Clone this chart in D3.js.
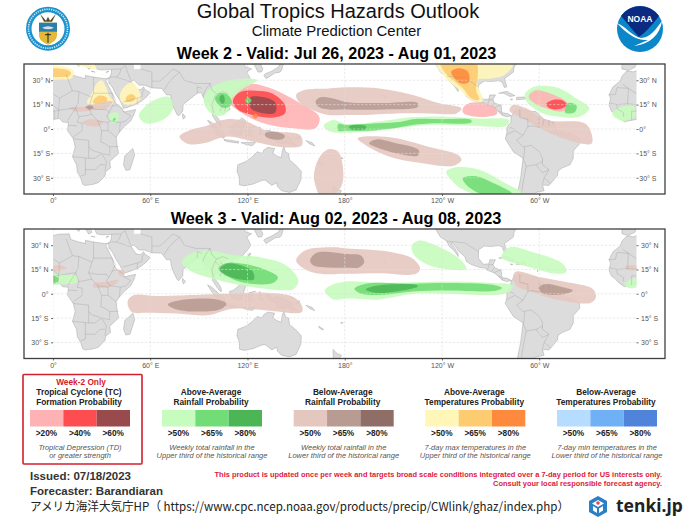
<!DOCTYPE html>
<html>
<head>
<meta charset="utf-8">
<script src="https://cdn.jsdelivr.net/npm/d3@7"></script>
<style>
html, body { margin: 0; padding: 0; background: #fff; }
svg { display: block; font-family: "Liberation Sans", Arial, sans-serif; }
</style>
</head>
<body>
<div id="wrapper"></div>
<script>
// lat / lon ticks
const lonTicks = [0, 60, 120, 180, 240, 300];
const lonTickLabels = ["0°", "60° E", "120° E", "180°", "120° W", "60° W"];
const latTicks = [30, 15, 0, -15, -30];
const latTickLabels = ["30° N", "15° N", "0°", "15° S", "30° S"];

// land, [lon, lat]
const africa = [[10,37],[11,33.5],[15,32.3],[20,31],[20,33],[25,32],[32,31],[34.3,31.3],[32.5,30],[34,27],[35.5,24],[37,21],[37.3,18.5],[39,15.5],[43,12],[44,10.5],[51,12],[50,9],[48,5],[44,1.5],[41,-2],[39,-5],[39.5,-10],[40.5,-15],[35,-20],[35.5,-24],[32.7,-26],[32,-29],[28,-33],[25,-34],[20,-34.8],[18.3,-34],[17,-30],[15,-26.5],[14.5,-22],[12,-17],[13.7,-11],[12.5,-6],[9,-1],[9.5,4],[6,4.3],[4,6.4],[1,6],[-4,5.2],[-7.5,4.4],[-11,6.8],[-13.5,9.5],[-15.5,11],[-17,14.7],[-16,19],[-17,21],[-14.5,26],[-10,29.5],[-9,32.5],[-6,35.7],[-2,35.2],[3,36.8]];
const eurasia = [[-9,37],[-5,36],[-1,38],[0,40],[3,42],[8,44],[12,42],[16,38.5],[17,40.5],[14,44],[19.5,41],[22,36.8],[24,38],[23,40.5],[26.5,40.5],[26,39],[27,37],[30,36.3],[36,36.7],[36,34],[35,32],[34.3,31.3],[34.5,28],[35,28],[37,25],[39,21],[41,18],[43,14],[43.5,12.7],[45,13],[52,15.5],[55,17.5],[58,20],[59.8,22.5],[56.5,24.5],[56,26],[54,24.2],[51.5,24.5],[50,26.5],[48,29.5],[50,30],[53,27],[56.5,27],[61,25.3],[67,25],[68.5,23],[70,21],[72.5,21],[73,17],[74.5,13],[76.5,9],[77.5,8],[80,11],[80.3,15],[82,16.5],[86.5,20],[89,22],[91.5,22.5],[92.5,20],[94.5,16],[97,16.5],[98,12],[98.5,8],[100.5,5],[103,1.5],[104,1.5],[103.5,4],[102,6.5],[100,9],[100,13],[101,12.7],[103,11],[105,8.7],[107,10.5],[109.2,12],[108.8,15.5],[106,18.5],[106,20],[108,21.5],[110,20.5],[113,22],[117,23.5],[120,27],[122,30],[121,32.5],[119.5,35],[122.5,37],[118.5,38.5],[118,40],[122,40],[124,39.8],[125,38],[126.5,35],[128.8,35.2],[129.5,37],[128,40],[132,43],[140,50],[180,60],[-10,60],[-9,43]];
const northAmerica = [[-124,42],[-124,40],[-121,35],[-117,32.5],[-115.7,29.5],[-112.5,26.5],[-110,23],[-110,24.5],[-112,28],[-114.5,31.5],[-113,31],[-109.5,26],[-106,23],[-105,20],[-102,18],[-96,16],[-94,16],[-92,14.5],[-88,13],[-85.5,11],[-83,8.5],[-80,7.5],[-78,8],[-77,8],[-79.5,9.5],[-83,10],[-83.5,14.5],[-87.5,16],[-88.5,18],[-87,21],[-90.5,21],[-91,18.5],[-94.5,18.2],[-97.5,22],[-97.5,27],[-94,29.5],[-90,29.2],[-85,29.7],[-83,29],[-81.5,25.5],[-80,26],[-81.5,31],[-76,35],[-75.5,38],[-74,40.5],[-70,42],[-60,50],[-130,50]];
const southAmerica = [[-77,8],[-75.5,10.8],[-72,12],[-68,11],[-62,10.7],[-57,6],[-52,4.5],[-50,1],[-48,-1],[-44,-2.5],[-40,-3],[-35.2,-5.5],[-35,-9],[-39,-13.5],[-39,-18],[-41,-22],[-46,-24],[-48.5,-26],[-48.7,-28.5],[-52,-32.5],[-54,-34.7],[-58,-34.5],[-57,-38],[-62,-39],[-65,-42],[-72,-45],[-73.5,-40],[-71.5,-30],[-70,-18],[-76,-14],[-81,-6],[-80,-2.5],[-80,1],[-77.5,4],[-77.5,7]];
const australia = [[114,-22],[113.5,-26],[115,-30],[115,-34.3],[118,-35],[123.5,-33.9],[129,-31.6],[131,-31.5],[135,-34.7],[138,-33],[138.5,-35.5],[141,-38],[146,-39],[150,-37.5],[153,-31],[153.2,-26],[149.5,-22],[146,-19],[145.3,-15],[143.5,-14.3],[142.5,-10.8],[141.5,-13],[140.8,-17.5],[139,-17],[135.5,-15],[136.8,-12],[132.5,-11.3],[130,-13],[129,-15],[126,-14],[122.5,-17.5],[119,-20]];
const islands = [
  [[49.3,-12],[50.4,-16],[47.5,-25],[45,-25.5],[43.5,-22],[44.3,-16.5]],
  [[80,9.5],[81.8,7.5],[80.5,6],[79.8,8]],
  [[95.3,5.5],[98,4],[103.5,-1],[106,-3],[105.5,-5.8],[102,-4],[98.5,0.5]],
  [[105.5,-6.5],[108.5,-6.8],[114.5,-7.7],[114.5,-8.7],[108,-7.9],[105.5,-7]],
  [[109,1.5],[111,2],[113,3.5],[116.5,7],[119,5],[117.7,1],[116.3,-3.5],[114.5,-4],[110.5,-3],[109,0]],
  [[119.5,0],[125,1.5],[121,0.5],[122,-1],[123.3,-1],[122,-2],[123,-5],[121.5,-4],[120.5,-3],[120.4,-5.5],[119.5,-5.5],[119,-3]],
  [[131,-1],[134,-0.8],[135,-3.3],[138,-1.7],[141,-2.6],[145,-4.5],[147.8,-6.5],[147,-7],[150.5,-10.5],[147,-9.8],[143.5,-8.3],[142.5,-9.2],[138,-8.3],[138.5,-6.5],[135,-4.5],[132.5,-3.5],[133,-2.5]],
  [[120.5,18.5],[122.3,18.4],[121.7,16],[124,13],[121,13.8],[120,15.5]],
  [[122,7],[125.5,9.7],[126.5,7.5],[125.5,5.8],[124,6.5]],
  [[122,11.5],[125,12.5],[125,10],[123,9.5]],
  [[121,25],[122,25],[120.8,22],[120.2,23]],
  [[109,20],[111,20],[110,18.3],[108.7,18.8]],
  [[130,33],[131,34],[135,35.6],[137,37],[139,38],[140,40],[141.5,41],[142,39.5],[141,36],[140,35],[137,34.5],[135.5,33.5],[131.5,31]],
  [[172.7,-34.4],[175.5,-37],[178,-38],[176,-41],[173,-41]],
  [[116,-8.4],[119,-8.3],[125,-8.3],[123,-10.3],[119,-9.6]],
  [[127.5,1.5],[128.5,-1],[128,-3],[130.5,-3.5],[127.5,-3.5]],
  [[150,-5.5],[152,-4.2],[152,-6],[149.5,-6.5]],
  [[156,-7],[160,-8.5],[161.5,-10.5],[158,-9]],
  [[164,-20],[167,-22],[166,-22.3],[164,-20.8]],
  [[-85,22],[-80,23.2],[-75,20.5],[-78,20],[-82,22]],
  [[-74,19.5],[-69,19.7],[-68.5,18.5],[-74,18]],
  [[-78,18.4],[-76.3,18.2],[-77,17.8]],
  [[-67,18.5],[-65.7,18.4],[-66,18]],
  [[-156,20.8],[-155,19.8],[-155.7,19]],
  [[-61,14.5],[-60.8,13.8],[-61.4,13.9]],
  [[178,-17.5],[179,-18],[177.5,-18.3]],
  [[25,35.3],[23.5,35.5],[26,35]],
  [[33,35.3],[34.5,35.6],[33,34.6]]
];
const lakes = [[[50,37],[54,37],[54,40],[50,40]]];

// borders, [lon, lat]
const borders = [
  [[25,32],[25,22],[36.5,22]],[[25,22],[24,19.5],[16,23],[12,23.5],[9.5,30],[8,34]],[[12,23.5],[4,19],[1,21],[-5,25],[-8.5,27.5]],
  [[-5,25],[-12,25.5],[-13,21.3],[-17,21]],[[-5,25],[-5.5,15.5],[-12,15],[-16.5,16]],[[-12,15],[-12,12.5],[-8,10],[-8,7.5]],
  [[4,19],[3.5,11.5],[1,11],[1,6]],[[-5.5,15.5],[0,15],[3.5,11.5]],[[-3,5.2],[-3,11],[1,11]],[[3.5,11.5],[3,6.5]],
  [[3.5,11.5],[14,13],[15.5,16],[16,23]],[[14,13],[9,5]],[[24,19.5],[22,13],[24,9],[27.5,5],[34,4]],[[14,13],[15,10],[16,7.5],[24,9]],
  [[36.5,22],[38.5,18],[36.5,14],[34.5,10],[33,8],[35,5],[34,4]],[[36.5,14],[40,15],[43,12.5]],[[22,13],[27,12],[33,12],[34.5,10]],
  [[43,11],[48,8],[45,5],[41.5,4],[41,-2]],[[35,5],[41.5,4]],[[34,4],[34,-1],[39,-5]],[[30,-1],[34,-1]],[[30,-1],[29.5,-8],[31,-8.5],[35,-11],[40.5,-10.7]],
  [[27.5,5],[30,-1]],[[16,7.5],[15,4],[18,3.5],[18,-1],[12.5,-5]],[[9.5,2.3],[15,2]],[[12.5,-6],[22,-7],[22,-11],[24,-13],[30,-15],[33,-20],[32,-26]],
  [[35,-11],[35,-16],[30,-15]],[[22,-11],[22,-18],[12,-17]],[[20,-18],[20,-28],[17,-29]],[[20,-25],[26,-25],[29,-22],[32,-22]],[[22,-18],[26,-18],[30,-15]],
  [[34.3,31.3],[36,32],[39,32],[48,29]],[[36,36.7],[42,37],[44.5,39]],[[42,37],[41,34],[39,32]],[[48,30],[46,35],[44.5,39]],[[43,16.5],[52,19],[55,20],[55,22.5],[56,24.5]],[[52,15.5],[52,19]],
  [[61,25.3],[61,29.5],[61,35],[54,37]],[[61,29.5],[66,29.5],[70,33],[74,37]],[[68.5,24],[71,28],[74.5,32],[78,35]],[[78,35],[81,30],[88,28],[97,28],[98,24],[101,21.5],[105,23],[108,21.5]],
  [[92.5,20],[94,24],[97,28]],[[89,22],[89,26],[92,25]],[[101,21.5],[100,20],[98,15],[99,10]],[[100,20],[105,15],[103,11]],[[103,20],[107,15],[106,11]],[[74,37],[78,35]],[[124,39.8],[128,42]],
  [[-72,12],[-72,7],[-67,6],[-67,1.5],[-70,-4]],[[-80,-3.5],[-75,-1],[-70,-4]],[[-78,1],[-75,0]],[[-60,8],[-60,5],[-60,1],[-64,2],[-67,1.5]],[[-57,6],[-58,2]],[[-54,5.5],[-54,2]],[[-52,4.5],[-51,3]],[[-70,-4],[-74,-7],[-70,-11],[-65,-10],[-60,-14],[-58,-18],[-58,-22],[-54,-25],[-57,-30],[-53,-33.5]],
  [[-69,-11],[-69.5,-17.5],[-70,-18],[-68,-23],[-70,-33],[-71,-40]],[[-58,-20],[-62,-22],[-68,-23]],[[-58,-27],[-62,-22]],[[-58,-27],[-54,-25]],[[-58,-34],[-57,-30]],
  [[-117,32.5],[-106,31.5],[-97.5,26]],[[-92,14.5],[-91,18],[-88.5,18]],[[-89,14],[-88,16]],[[-85,11],[-83,10]],[[-83,8.5],[-82.5,9.5]],[[-88,13],[-83.5,15]]
];

// hazard areas, [kind, [lon, lat]...]
const week2Hazards = [
  ["warm1", [[236.5,41],[284,41],[278.6,33.3],[269.3,31],[262,30],[265,17],[258,18],[251,24],[242.6,31]]],
  ["warm2", [[239,41],[260.8,41],[262,32],[261,24],[263,18],[258,19],[253,25],[246.8,30],[241.5,35.3]]],
  ["warm3", [[245.7,35.3],[250.8,37.4],[256,35.3],[256.6,29],[252,28],[248,31]]],
  ["warm1", [[14,40],[20,38],[27,37],[24,41]]],
  ["warm1", [[-1,38],[6,38.5],[13,35.5],[11,31],[5,30.5],[-1,31]]],
  ["warm2", [[-1,36.8],[6,37],[11,35],[10,32.5],[5,32],[-1,32.5]]],
  ["warm1", [[21,16],[24,22],[27,28],[30,30],[33,25],[35,20],[38,16],[30,15]]],
  ["warm2", [[24.5,16.5],[28,20.5],[33,19.5],[33,16],[28,15]]],
  ["warm1", [[42,17],[41.5,22],[45,27],[49,28.5],[53,24],[54,19],[50,15.5],[45,15]]],
  ["warm2", [[45,17],[45.5,20],[48.5,21.5],[51,19.5],[49,17]]],
  ["dry1", [[10,13],[20,13.8],[28,16],[37,17],[33,13],[25,11.5],[15,10.7]]],
  ["dry2", [[20,13.5],[24,14.5],[25,13],[22,12]]],
  ["wet1", [[35,9],[40,10],[40,5],[36,4]]],
  ["wet2", [[37,6],[38.5,7],[38.5,5.5],[37,5]]],
  ["dry1", [[18,4],[24,6],[31,4],[29,2],[22,2]]],
  ["wet1", [[53,8],[57,14],[64,18.5],[72,19.5],[74,13],[71,8],[65,4.5],[57,3.5]]],
  ["dry1", [[78,-4.7],[83.5,-1],[95,2],[107,6],[119.5,4.5],[132,-1],[152.5,-3.7],[153.5,-10],[142,-11.3],[123.7,-7.8],[107,-4.7],[92.8,-8.8],[83.5,-9.2]]],
  ["dry2", [[131,-2.5],[136,-1.5],[143,-4],[142,-6],[136,-6.5],[131,-4.5]]],
  ["dry1", [[161,-28],[164,-18],[170,-12.5],[176,-14],[179,-25],[178,-35],[172,-41],[165,-41],[162,-35]]],
  ["dry1", [[150,21],[155,24],[170,25],[181,25.7],[201.5,25],[222,21],[238.4,15.8],[252,12.7],[249,9.6],[232.3,9.6],[211.7,9.6],[191,8.6],[181,8.6],[168,9],[152.5,16]]],
  ["dry2", [[162,17],[165,19.5],[172,19],[182,16.5],[205,16],[225,16],[225,13.5],[205,12],[190,11.8],[180,12],[170,12],[164,13.5]]],
  ["tc1", [[108,17.9],[115,25.7],[121.6,28],[136,24.4],[152.5,15.8],[164.4,7.2],[161.7,0.4],[148.4,0.4],[132,3],[118.5,8.6]]],
  ["tc1", [[253,13],[257,16],[265,16],[273,13],[274,9.5],[268,7.5],[258,8],[253,10]]],
  ["wet1", [[93,17],[96,24],[105,29],[118,31],[126,30],[116,24],[110,18],[108,11],[103,8],[97,10]]],
  ["wet2", [[100,19],[103,22],[107,21.5],[110,18],[110,15],[106,13],[102,15]]],
  ["wet3", [[103,20],[105,21],[106,18],[105,15.5],[103,17]]],
  ["tc2", [[111,17],[115,22.5],[125,23.6],[135,22],[143,15],[143,9.5],[135,7],[122,9],[114,12]]],
  ["tc3", [[121,19],[127,20],[137,16.5],[137,10],[128,10],[122,13]]],
  ["wet2", [[118.5,17.5],[120.5,19.5],[122.5,17.5],[120.5,15.5]]],
  ["warm3", [[123,8],[125,9.5],[126.5,8],[125,6.5]]],
  ["wet1", [[167,2],[173,5.5],[181,3],[207.5,5.5],[218,7],[242.5,7.6],[263,6.5],[281.5,5.5],[280,2],[259,2],[232,2.5],[216,1],[195,-1.6],[181,-2.3],[171,-1.6]]],
  ["wet2", [[176,3],[181,2.5],[200,3.5],[215,4.5],[222,6],[240,6],[258,5.5],[258,4],[235,3.5],[222,2.5],[213,1],[195,-1],[181,-1],[176,-1]]],
  ["wet3", [[183,1.8],[193,1.8],[193,0],[183,0]]],
  ["dry1", [[188,-5.7],[207.7,-5],[232.3,-11],[250,-16],[252,-19],[247,-22.6],[228,-21],[207.7,-17],[193,-10]]],
  ["dry2", [[195,-8.8],[199.4,-6.4],[211.7,-8.8],[225.7,-13],[225,-16.4],[213.8,-15.4],[201.5,-12]]],
  ["wet1", [[242.6,-26.3],[248.8,-23.6],[263,-25],[279.5,-33.5],[290,-39.6],[263.8,-41],[251.5,-36.5],[245.7,-31.4]]],
  ["wet2", [[252.8,-30.4],[261,-29],[270,-32.4],[283.5,-40],[268,-41],[257.5,-36.5]]],
  ["wet1", [[291,21],[296,25.7],[310.5,25.7],[322.7,19],[331,12.7],[325,7.6],[312.5,7.6],[302.3,9.6],[293,15.8]]],
  ["tc1", [[293.5,20],[297,23.6],[306.4,22],[316.7,16.8],[319,12.7],[313.5,10.7],[304.3,12.7],[297,15.8]]],
  ["wet2", [[318,16],[323,14.5],[322,10.5],[316,10]]],
  ["tc2", [[304.3,15.4],[308.4,17.9],[314.6,17.5],[317,14.8],[312.5,12.3],[306.4,12.7]]],
  ["dry1", [[281.7,11.3],[283.7,14.8],[292,12.7],[304.3,5.5],[329,3],[332.5,-8.8],[325,-8.8],[304.3,-1.6],[290,6.6]]],
  ["wet1", [[345,9],[349,13],[358,14],[359,8],[352,5]]]
];
const week3Hazards = [
  ["dry1", [[-1,16.5],[5,17.5],[8.5,16],[4,14],[-1,14.5]]],
  ["wet1", [[-1,11.5],[8,11.7],[15,11],[14.5,7],[6,6],[-1,6]]],
  ["wet2", [[-1,10.5],[3,10],[3,7.5],[-1,7]]],
  ["dry1", [[25,6],[33,7.5],[40.5,8.5],[38,5.5],[30,3.7],[25,4]]],
  ["dry1", [[40,14],[44,14.5],[44,11.5],[41,11.5]]],
  ["wet1", [[79.4,19.5],[84.5,24.6],[95,26.7],[111,24],[127.8,22.6],[144,17.5],[151.4,8.2],[148.4,3],[131.9,3],[111.3,6.2],[94.9,10.3],[84.5,14.4]]],
  ["wet2", [[102,15.4],[107,19],[117.5,18.5],[132,14.4],[138.7,10.3],[136,6.8],[123.7,6],[111.3,8.8]]],
  ["wet3", [[103,15],[107,18.5],[112,18.5],[123,14],[124,9],[118,8.5],[108,11]]],
  ["dry1", [[46,-5],[49.6,-1],[64,-1.4],[107,0],[132,0.6],[148.4,-2],[153.5,-7.2],[153.5,-11.3],[132,-10.3],[111.3,-9.2],[94.9,-13.3],[78.4,-12.3],[57.8,-11.7],[48.6,-11.3]]],
  ["dry2", [[70.8,-6.6],[78.4,-4],[101,-3.5],[107,-6],[104,-9.2],[90.7,-11],[76.3,-9.7]]],
  ["dry1", [[150,20.5],[155.5,26.7],[173,28.7],[181,28],[207.7,26],[222,21.6],[226.5,15.4],[224,12.3],[201.5,12.7],[181,12.3],[165,12.3],[155.5,15]]],
  ["dry2", [[158.6,20.5],[162.7,25.3],[181,24.6],[190,23.6],[192,19.5],[189,16.4],[181,16],[167,16.4],[160.7,17.5]]],
  ["wet1", [[221.4,29.8],[226,32.9],[236.4,29.8],[250.8,21.6],[255,15.4],[245,15],[232.3,17.5],[223,23.6]]],
  ["wet1", [[276.5,22.6],[281.7,28.7],[296,25.7],[314.6,18.5],[316.6,13.3],[310.5,12.3],[294,16.4],[279.6,20.5]]],
  ["wet1", [[167.5,2],[171,5],[180.9,7.6],[201.5,6.8],[242.5,7.6],[269,6.8],[283.7,5],[280.6,0.6],[242.5,0],[221.9,0],[201.5,-3.5],[181,-3],[173,-3.5]]],
  ["wet2", [[186,3],[193,6.2],[222,6.2],[242.5,6.6],[271,5.5],[277,3.5],[273,1.8],[242.5,2],[222,1.4],[203.5,-0.6],[191,-0.2]]],
  ["wet3", [[193,2.7],[199.4,5],[224,5.5],[225,4.5],[211.7,1.4],[199.4,0.6]]],
  ["dry1", [[283.7,10.3],[285.8,13.7],[300,10.3],[316.6,7.2],[333,3],[335,-2],[332,-5.5],[312.5,-4],[296,1],[286,5]]],
  ["dry2", [[299.8,4],[304.3,6],[314.6,4],[320.7,2],[316.6,0],[306.4,-0.6],[301,1]]],
  ["wet1", [[352.7,6],[360,10],[361,4.5],[355,3.5]]],
  ["dry1", [[353,17],[361,17],[361,15],[354,15]]]
];

// legend
const legendTitles = [
  ["Tropical Cyclone (TC)", "Formation Probability"],
  ["Above-Average", "Rainfall Probability"],
  ["Below-Average", "Rainfall Probability"],
  ["Above-Average", "Temperatures Probability"],
  ["Below-Average", "Temperatures Probability"]
];
const legendLevels = [
  [">20%", ">40%", ">60%"],
  [">50%", ">65%", ">80%"],
  [">50%", ">65%", ">80%"],
  [">50%", ">65%", ">80%"],
  [">50%", ">65%", ">80%"]
];
const legendNotes = [
  ["Tropical Depression (TD)", "or greater strength"],
  ["Weekly total rainfall in the", "Upper third of the historical range"],
  ["Weekly total rainfall in the", "Lower third of the historical range"],
  ["7-day max temperatures in the", "Upper third of the historical range"],
  ["7-day min temperatures in the", "Lower third of the historical range"]
];
const legendColors = [
  ["#ffb2b4", "#fd4d50", "#984a4c"],
  ["#c6fcbe", "#72dc76", "#4cb656"],
  ["#e4c8c0", "#b89c94", "#906e68"],
  ["#fff6b8", "#fdcb70", "#fe8a3e"],
  ["#b6dcff", "#70b0f4", "#5084da"]
];
const legendLeft = [30, 162, 293.7, 425.3, 557];

const hazardColors = {
  tc1: legendColors[0][0], tc2: legendColors[0][1], tc3: legendColors[0][2],
  wet1: legendColors[1][0], wet2: legendColors[1][1], wet3: legendColors[1][2],
  dry1: legendColors[2][0], dry2: legendColors[2][1], dry3: legendColors[2][2],
  warm1: legendColors[3][0], warm2: legendColors[3][1], warm3: legendColors[3][2]
};

const width = 692, height = 519;

const svg = d3.select("#wrapper").append("svg")
    .attr("width", width)
    .attr("height", height)
    .attr("viewBox", `0 0 ${width} ${height}`);

const x = d3.scaleLinear().domain([0, 360]).range([53, 636.5]);

function drawMap(id, top, bottom, hazards, tickPad) {
    const y = d3.scaleLinear().domain([-40, 40]).range([bottom, top]);
    const g = svg.append("g");

    svg.append("clipPath").attr("id", "clip" + id).append("rect")
        .attr("x", x(0)).attr("y", top)
        .attr("width", x(360) - x(0)).attr("height", bottom - top);

    const plot = g.append("g").attr("clip-path", `url(#clip${id})`);

    const land = d3.line().x(d => x(d[0])).y(d => y(d[1]));
    const shifted = off => d3.line().x(d => x(d[0] + off)).y(d => y(d[1]));
    const blob = d3.line().x(d => x(d[0])).y(d => y(d[1])).curve(d3.curveCatmullRomClosed.alpha(0.5));

    const polys = [africa, eurasia, northAmerica, southAmerica, australia].concat(islands);
    [0, 360].forEach(off => {
        plot.selectAll(null).data(polys).join("path")
            .attr("d", d => shifted(off)(d) + "Z")
            .attr("fill", "#dcdcdc")
            .attr("stroke", "#8a8a8a")
            .attr("stroke-width", 0.35);
    });
    plot.selectAll(null).data(lakes).join("path")
        .attr("d", d => land(d) + "Z").attr("fill", "#fff");

    plot.selectAll(null).data(hazards).join("path")
        .attr("d", d => blob(d[1]))
        .attr("fill", d => hazardColors[d[0]])
        .attr("fill-opacity", 0.9);

    [0, 360].forEach(off => {
        plot.selectAll(null).data(borders).join("path")
            .attr("d", shifted(off))
            .attr("fill", "none")
            .attr("stroke", "#8e8e8e")
            .attr("stroke-width", 0.3);
    });

    // dashed grid
    plot.selectAll(null).data(latTicks).join("line")
        .attr("x1", x(0)).attr("x2", x(360))
        .attr("y1", d => y(d)).attr("y2", d => y(d))
        .attr("stroke", "#dedede").attr("stroke-width", 0.6).attr("stroke-dasharray", "2.5 1.5");
    plot.selectAll(null).data(lonTicks).join("line")
        .attr("x1", d => x(d)).attr("x2", d => x(d))
        .attr("y1", top).attr("y2", bottom)
        .attr("stroke", "#dedede").attr("stroke-width", 0.6).attr("stroke-dasharray", "2.5 1.5");

    const styleAxis = a => {
        a.select(".domain").remove();
        a.selectAll("line").attr("stroke", "#444").attr("stroke-width", 0.8);
        a.selectAll("text").attr("fill", "#555").attr("font-size", 7)
            .attr("font-family", "Liberation Sans");
    };
    const latLabel = d => latTickLabels[latTicks.indexOf(d)];

    g.append("g").attr("transform", `translate(${x(0)},0)`)
        .call(d3.axisLeft(y).tickValues(latTicks).tickFormat(latLabel).tickSize(2).tickPadding(tickPad))
        .call(styleAxis);
    g.append("g").attr("transform", `translate(${x(360)},0)`)
        .call(d3.axisRight(y).tickValues(latTicks).tickFormat(latLabel).tickSize(2).tickPadding(tickPad))
        .call(styleAxis);
    g.append("g").attr("transform", `translate(0,${bottom})`)
        .call(d3.axisBottom(x).tickValues(lonTicks).tickFormat(d => lonTickLabels[lonTicks.indexOf(d)]).tickSize(2).tickPadding(2.5))
        .call(styleAxis);

    g.append("rect")
        .attr("x", 24).attr("y", top)
        .attr("width", 641).attr("height", bottom - top)
        .attr("fill", "none").attr("stroke", "#3f3f3f").attr("stroke-width", 1.3);
}

drawMap(1, 64, 194, week2Hazards, 0.8);
drawMap(2, 229, 358.5, week3Hazards, 2.5);

// titles
function label(txt, px, py, size, opts = {}) {
    return svg.append("text")
        .attr("x", px).attr("y", py)
        .attr("font-size", size)
        .attr("text-anchor", opts.anchor || "middle")
        .attr("font-weight", opts.weight || "normal")
        .attr("font-style", opts.style || "normal")
        .attr("fill", opts.fill || "#111")
        .attr("font-family", opts.family || "Liberation Sans")
        .text(txt);
}
label("Global Tropics Hazards Outlook", 338, 18, 20);
label("Climate Prediction Center", 336.5, 36, 14.9);
label("Week 2 - Valid: Jul 26, 2023 - Aug 01, 2023", 336.5, 59, 16.1, { weight: "bold", fill: "#000" });
label("Week 3 - Valid: Aug 02, 2023 - Aug 08, 2023", 336, 224, 16.3, { weight: "bold", fill: "#000" });

// legend
svg.append("rect").attr("x", 23).attr("y", 374.5).attr("width", 119).attr("height", 89.5)
    .attr("fill", "none").attr("stroke", "#d3202c").attr("stroke-width", 1.6).attr("rx", 1);
label("Week-2 Only", 81, 385, 8.3, { weight: "bold", fill: "#d3202c" });

const swatch = d3.scaleBand().domain([0, 1, 2]).range([0, 100]);
legendLeft.forEach((left, i) => {
    const center = left + 49;
    legendTitles[i].forEach((t, j) => label(t, center, 395 + j * 9.8, 8.3, { weight: "bold", fill: "#222" }));
    legendColors[i].forEach((c, j) => {
        svg.append("rect")
            .attr("x", left + swatch(j)).attr("y", 410)
            .attr("width", swatch.bandwidth()).attr("height", 16.5)
            .attr("fill", c);
    });
    legendLevels[i].forEach((t, j) => label(t, left + swatch(j) + 16.5, 436, 8.3, { weight: "bold", fill: "#222" }));
    legendNotes[i].forEach((t, j) => label(t, center + 1, 449.5 + j * 8.8, 7.5, { style: "italic", fill: "#555" }));
});

label("Issued: 07/18/2023", 30, 479.5, 11.5, { anchor: "start", weight: "bold", fill: "#333" });
label("Forecaster: Barandiaran", 30, 495, 11.5, { anchor: "start", weight: "bold", fill: "#333" });
label("This product is updated once per week and targets broad scale conditions integrated over a 7-day period for US interests only.", 662, 477, 7.45, { anchor: "end", weight: "bold", fill: "#e0203a" });
label("Consult your local responsible forecast agency.", 662, 485.5, 7.45, { anchor: "end", weight: "bold", fill: "#e0203a" });
label("アメリカ海洋大気庁HP（ https://www.cpc.ncep.noaa.gov/products/precip/CWlink/ghaz/index.php）", 30, 511, 12, { anchor: "start", family: "Noto Sans CJK JP", fill: "#222" })
    .attr("textLength", 539).attr("lengthAdjust", "spacingAndGlyphs");

// Commerce seal
const seal = svg.append("g").attr("transform", "translate(48,28.7)");
seal.append("circle").attr("r", 22).attr("fill", "#1c92cf");
seal.append("circle").attr("r", 19.5).attr("fill", "none").attr("stroke", "#cfeaf6").attr("stroke-width", 1.6).attr("stroke-dasharray", "1.3 1");
seal.append("circle").attr("r", 16.5).attr("fill", "#fff");
seal.append("path").attr("d", "M-9,-6 H9 V6 C9,12 4,14 0,16 C-4,14 -9,12 -9,6 Z").attr("fill", "#e3b93a");
seal.append("rect").attr("x", -9).attr("y", -6).attr("width", 18).attr("height", 9).attr("fill", "#2a7fa8");
seal.append("path").attr("d", "M-6,-1 Q0,-4 6,-1 Q0,2 -6,-1 Z").attr("fill", "#dde");
seal.append("path").attr("d", "M0,14 V4 M-3,6 H3").attr("stroke", "#222").attr("stroke-width", 1);
seal.append("path").attr("d", "M-8,-15 L-2,-8 L0,-12 L2,-8 L8,-15 L4,-7 H-4 Z").attr("fill", "#5b4a22");

// NOAA logo
const noaa = svg.append("g").attr("transform", "translate(640,29)");
noaa.append("circle").attr("r", 23).attr("fill", "#0b86c9");
noaa.append("path").attr("d", "M-19,-13 A23,23 0 0 1 19,-13 C12,-4 6,3 -1,8 C-6,3 -12,-5 -19,-13 Z").attr("fill", "#0d2a82");
noaa.append("path").attr("d", "M-23,-6 C-15,-3 -8,7 1,9 C10,9 16,0 22,-8 C20,6 10,15 -6,17 L8,11 C-4,12 -14,4 -23,-6 Z").attr("fill", "#fff");
noaa.append("text").attr("x", 0).attr("y", -7).attr("text-anchor", "middle").attr("font-size", 8.5).attr("fill", "#fff").attr("font-weight", "bold").text("NOAA");

// tenki.jp
const tenki = svg.append("g").attr("transform", "translate(598,507)");
tenki.append("path").attr("d", "M0,-11 L9,-6 V5 L0,10 L-9,5 V-6 Z").attr("fill", "#2b7fc4");
tenki.append("path").attr("d", "M0,-7 L6,-3.5 L0,0 L-6,-3.5 Z").attr("fill", "#fff");
tenki.append("circle").attr("cy", -4).attr("r", 1.8).attr("fill", "#e04a50");
tenki.append("path").attr("d", "M-5,-1 L-1,1.5 V6 L-5,3.5 Z M5,-1 L1,1.5 V6 L5,3.5 Z").attr("fill", "#fff");
label("tenki.jp", 616, 511.5, 17.5, { anchor: "start", weight: "bold", family: "Noto Sans", fill: "#222" });
</script>
</body>
</html>
